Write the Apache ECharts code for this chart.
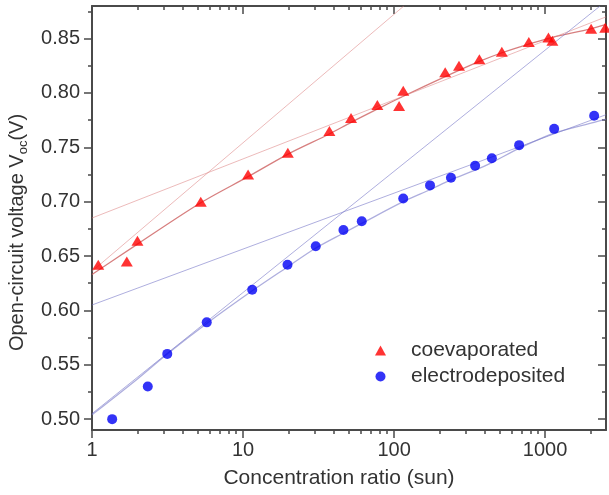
<!DOCTYPE html>
<html>
<head>
<meta charset="utf-8">
<script src="https://cdn.jsdelivr.net/npm/echarts@6/dist/echarts.min.js"></script>
<style>html,body{margin:0;padding:0;background:#fff}</style>
</head>
<body>
<div id="main" style="width:609px;height:495px"></div>
<script>
// measured points
var coevapX = [1.1, 1.7, 2.0, 5.25, 10.8, 19.8, 37.3, 51.9, 77.5, 108, 115, 218, 269, 367, 517, 780, 1052, 1117, 2017, 2500]
var coevapY = [0.642, 0.645, 0.664, 0.700, 0.725, 0.745, 0.765, 0.777, 0.789, 0.788, 0.802, 0.819, 0.825, 0.831, 0.838, 0.847, 0.851, 0.848, 0.859, 0.860]
var electroX = [1.36, 2.34, 3.15, 5.75, 11.5, 19.7, 30.3, 46.2, 61.1, 115, 173, 238, 344, 444, 673, 1148, 2112]
var electroY = [0.500, 0.530, 0.560, 0.589, 0.619, 0.642, 0.659, 0.674, 0.682, 0.703, 0.715, 0.722, 0.733, 0.740, 0.752, 0.767, 0.779]

// fit curves
var coevapFitX = [1, 2, 5.25, 10.8, 20, 37, 52, 77, 115, 218, 367, 517, 780, 1100, 2000, 2530]
var coevapFitY = [0.633, 0.661, 0.699, 0.723, 0.744, 0.762, 0.773, 0.785, 0.797, 0.815, 0.829, 0.837, 0.845, 0.851, 0.859, 0.863]
var electroFitX = [1, 2, 3.15, 5.75, 11.5, 19.7, 30, 46, 61, 115, 173, 238, 344, 444, 673, 1148, 2112, 2530]
var electroFitY = [0.504, 0.537, 0.560, 0.588, 0.618, 0.640, 0.657, 0.671, 0.680, 0.700, 0.711, 0.720, 0.729, 0.736, 0.749, 0.763, 0.773, 0.776]

// straight guide lines (visible end points)
var coevapSteepX = [1, 116]
var coevapSteepY = [0.636, 0.88]
var coevapFlatX = [1, 2530]
var coevapFlatY = [0.685, 0.870]
var electroSteepX = [1, 2312]
var electroSteepY = [0.505, 0.88]
var electroFlatX = [1, 2530]
var electroFlatY = [0.605, 0.780]

var xMajor = [1, 10, 100, 1000]
var xMinor = [2, 3, 4, 5, 6, 7, 8, 9, 20, 30, 40, 50, 60, 70, 80, 90, 200, 300, 400, 500, 600, 700, 800, 900, 2000]
var yMajor = [0.50, 0.55, 0.60, 0.65, 0.70, 0.75, 0.80, 0.85]
var yMinor = [0.525, 0.575, 0.625, 0.675, 0.725, 0.775, 0.825, 0.875]

function pairs (xs, ys) {
  return xs.map(function (x, i) { return [x, ys[i]] })
}

var font = 'Liberation Sans, Arial, sans-serif'
var axisColor = '#4a4a4a'
var textColor = '#333'

function xAx (pos, ticks, len, inside, labels, line) {
  return {
    type: 'log', logBase: 10, min: 1, max: 2530, position: pos,
    axisLine: { show: line, lineStyle: { color: axisColor, width: 2 } },
    axisTick: { show: true, inside: inside, length: len, customValues: ticks, lineStyle: { color: axisColor, width: 1.5 } },
    axisLabel: labels ? {
      show: true, customValues: xMajor, margin: 10, fontSize: 20, color: textColor, fontFamily: font,
      formatter: function (v) { return String(Math.round(v)) }
    } : { show: false },
    splitLine: { show: false },
    minorTick: { show: false }
  }
}
function yAx (pos, ticks, len, inside, labels, line) {
  return {
    type: 'value', min: 0.49, max: 0.88, position: pos,
    axisLine: { show: line, lineStyle: { color: axisColor, width: 2 } },
    axisTick: { show: true, inside: inside, length: len, customValues: ticks, lineStyle: { color: axisColor, width: 1.5 } },
    axisLabel: labels ? {
      show: true, customValues: yMajor, margin: 12, fontSize: 20, color: textColor, fontFamily: font,
      formatter: function (v) { return v.toFixed(2) }
    } : { show: false },
    splitLine: { show: false }
  }
}

var xAxes = [
  xAx('bottom', xMajor, 8, false, true, true),
  xAx('bottom', xMinor, 4, false, false, false),
  xAx('top', xMajor, 8, true, false, true),
  xAx('top', xMinor, 4, true, false, false)
]
xAxes[0].name = 'Concentration ratio (sun)'
xAxes[0].nameLocation = 'middle'
xAxes[0].nameGap = 38
xAxes[0].nameTextStyle = { fontSize: 21, color: textColor, fontFamily: font, padding: [0, 20, 0, 0] }

var yAxes = [
  yAx('left', yMajor, 8, false, true, true),
  yAx('left', yMinor, 4, false, false, false),
  yAx('right', yMajor, 8, true, false, true),
  yAx('right', yMinor, 4, true, false, false)
]
yAxes[0].name = 'Open-circuit voltage V{sub|oc}(V)'
yAxes[0].nameLocation = 'middle'
yAxes[0].nameGap = 53
yAxes[0].nameTextStyle = {
  fontSize: 20, color: textColor, fontFamily: font, lineHeight: 26, padding: [0, 29, 0, 0],
  rich: { sub: { fontSize: 13, color: textColor, fontFamily: font, verticalAlign: 'bottom', lineHeight: 26 } }
}

var redLine = 'rgba(205, 95, 95, 0.8)'
var redPale = 'rgba(220, 130, 130, 0.55)'
var bluePale = 'rgba(120, 120, 200, 0.6)'

function guide (name, xs, ys, color, width, smooth) {
  return {
    name: name, type: 'line', data: pairs(xs, ys), showSymbol: false, smooth: smooth,
    silent: true, z: 1,
    lineStyle: { color: color, width: width }
  }
}

var myChart = echarts.init(document.getElementById('main'))
var option = {
  animation: false,
  grid: { left: 92, top: 6, right: 3, bottom: 65, outerBoundsMode: 'none' },
  legend: {
    orient: 'vertical', left: 370, top: 335, itemWidth: 11, itemHeight: 10, itemGap: 5,
    data: ['coevaporated', 'electrodeposited'],
    textStyle: { fontSize: 21, color: textColor, fontFamily: font, lineHeight: 21, padding: [0, 0, 0, 20] }
  },
  xAxis: xAxes,
  yAxis: yAxes,
  series: [
    guide('cFit', coevapFitX, coevapFitY, redLine, 1.3, 0.3),
    guide('cSteep', coevapSteepX, coevapSteepY, redPale, 1, false),
    guide('cFlat', coevapFlatX, coevapFlatY, redPale, 1, false),
    guide('eFit', electroFitX, electroFitY, bluePale, 1.3, 0.3),
    guide('eSteep', electroSteepX, electroSteepY, bluePale, 1, false),
    guide('eFlat', electroFlatX, electroFlatY, bluePale, 1, false),
    {
      name: 'coevaporated', type: 'scatter', symbol: 'triangle', symbolSize: [12, 10], z: 3,
      itemStyle: { color: '#ff0000' },
      data: pairs(coevapX, coevapY)
    },
    {
      name: 'electrodeposited', type: 'scatter', symbol: 'circle', symbolSize: 10, z: 3,
      itemStyle: { color: '#0000f5' },
      data: pairs(electroX, electroY)
    }
  ]
}
myChart.setOption(option)
</script>
</body>
</html>
